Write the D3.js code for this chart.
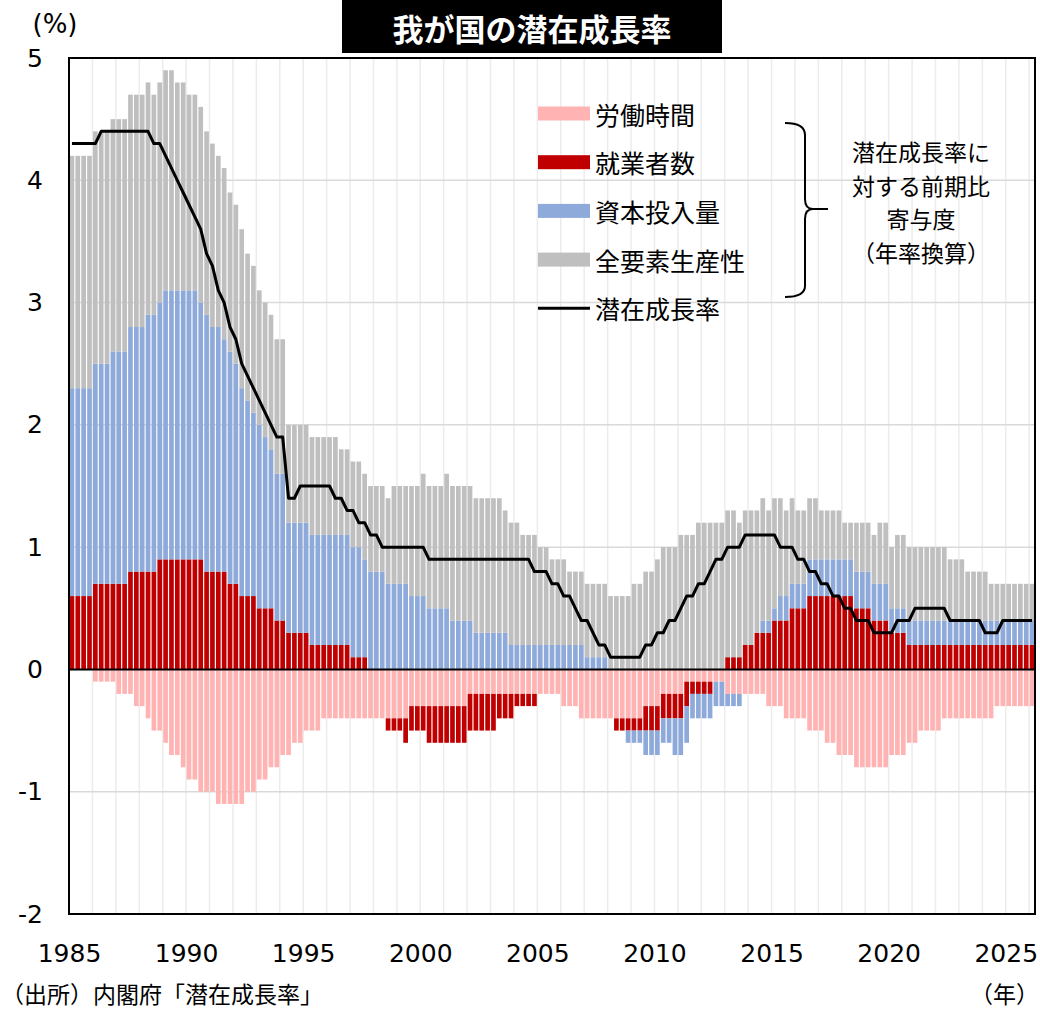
<!DOCTYPE html>
<html>
<head>
<meta charset="utf-8">
<script src="https://cdn.jsdelivr.net/npm/d3@7"></script>
<style>
body { margin: 0; background: #fff; }
</style>
</head>
<body>
<script>
//Données trimestrielles, de 1985T1 à 2026T1 (寄与度, %)
let anneeDebut = 1985;
let nomsSeries = ["労働時間", "就業者数", "資本投入量", "全要素生産性"];
let nomLigne = "潜在成長率";
let couleurs = ["#ffb3b3", "#c00000", "#8eaadb", "#bfbfbf"];

let heuresTravail = [
    0, 0, 0, 0,                 // 1985
    -0.1, -0.1, -0.1, -0.1,     // 1986
    -0.2, -0.2, -0.2, -0.3,     // 1987
    -0.3, -0.4, -0.5, -0.5,     // 1988
    -0.6, -0.7, -0.7, -0.8,     // 1989
    -0.9, -0.9, -1.0, -1.0,     // 1990
    -1.0, -1.1, -1.1, -1.1,     // 1991
    -1.1, -1.1, -1.0, -1.0,     // 1992
    -0.9, -0.9, -0.8, -0.8,     // 1993
    -0.7, -0.7, -0.6, -0.6,     // 1994
    -0.5, -0.5, -0.5, -0.4,     // 1995
    -0.4, -0.4, -0.4, -0.4,     // 1996
    -0.4, -0.4, -0.4, -0.4,     // 1997
    -0.4, -0.4, -0.4, -0.4,     // 1998
    -0.4, -0.4, -0.3, -0.3,     // 1999
    -0.3, -0.3, -0.3, -0.3,     // 2000
    -0.3, -0.3, -0.3, -0.3,     // 2001
    -0.2, -0.2, -0.2, -0.2,     // 2002
    -0.2, -0.2, -0.2, -0.2,     // 2003
    -0.2, -0.2, -0.2, -0.2,     // 2004
    -0.2, -0.2, -0.2, -0.2,     // 2005
    -0.3, -0.3, -0.3, -0.4,     // 2006
    -0.4, -0.4, -0.4, -0.4,     // 2007
    -0.4, -0.4, -0.4, -0.4,     // 2008
    -0.4, -0.4, -0.3, -0.3,     // 2009
    -0.3, -0.2, -0.2, -0.2,     // 2010
    -0.2, -0.1, -0.1, -0.1,     // 2011
    -0.1, -0.1, -0.1, -0.1,     // 2012
    -0.2, -0.2, -0.2, -0.2,     // 2013
    -0.2, -0.2, -0.2, -0.3,     // 2014
    -0.3, -0.3, -0.4, -0.4,     // 2015
    -0.4, -0.4, -0.5, -0.5,     // 2016
    -0.5, -0.6, -0.6, -0.7,     // 2017
    -0.7, -0.7, -0.8, -0.8,     // 2018
    -0.8, -0.8, -0.8, -0.8,     // 2019
    -0.7, -0.7, -0.7, -0.6,     // 2020
    -0.6, -0.5, -0.5, -0.5,     // 2021
    -0.5, -0.4, -0.4, -0.4,     // 2022
    -0.4, -0.4, -0.4, -0.4,     // 2023
    -0.4, -0.4, -0.3, -0.3,     // 2024
    -0.3, -0.3, -0.3, -0.3,     // 2025
    -0.3                        // 2026
];

let emploi = [
    0.6, 0.6, 0.6, 0.6,         // 1985
    0.7, 0.7, 0.7, 0.7,         // 1986
    0.7, 0.7, 0.8, 0.8,         // 1987
    0.8, 0.8, 0.8, 0.9,         // 1988
    0.9, 0.9, 0.9, 0.9,         // 1989
    0.9, 0.9, 0.9, 0.8,         // 1990
    0.8, 0.8, 0.8, 0.7,         // 1991
    0.7, 0.6, 0.6, 0.6,         // 1992
    0.5, 0.5, 0.5, 0.4,         // 1993
    0.4, 0.3, 0.3, 0.3,         // 1994
    0.3, 0.2, 0.2, 0.2,         // 1995
    0.2, 0.2, 0.2, 0.2,         // 1996
    0.1, 0.1, 0.1, 0,           // 1997
    0, 0, -0.1, -0.1,           // 1998
    -0.1, -0.2, -0.2, -0.2,     // 1999
    -0.2, -0.3, -0.3, -0.3,     // 2000
    -0.3, -0.3, -0.3, -0.3,     // 2001
    -0.3, -0.3, -0.3, -0.3,     // 2002
    -0.3, -0.2, -0.2, -0.2,     // 2003
    -0.1, -0.1, -0.1, -0.1,     // 2004
    0, 0, 0, 0,                 // 2005
    0, 0, 0, 0,                 // 2006
    0, 0, 0, 0,                 // 2007
    0, -0.1, -0.1, -0.1,        // 2008
    -0.1, -0.1, -0.2, -0.2,     // 2009
    -0.2, -0.2, -0.2, -0.2,     // 2010
    -0.2, -0.2, -0.1, -0.1,     // 2011
    -0.1, -0.1, 0, 0,           // 2012
    0.1, 0.1, 0.1, 0.2,         // 2013
    0.2, 0.3, 0.3, 0.3,         // 2014
    0.4, 0.4, 0.4, 0.5,         // 2015
    0.5, 0.5, 0.6, 0.6,         // 2016
    0.6, 0.6, 0.6, 0.6,         // 2017
    0.6, 0.6, 0.5, 0.5,         // 2018
    0.5, 0.4, 0.4, 0.4,         // 2019
    0.3, 0.3, 0.3, 0.2,         // 2020
    0.2, 0.2, 0.2, 0.2,         // 2021
    0.2, 0.2, 0.2, 0.2,         // 2022
    0.2, 0.2, 0.2, 0.2,         // 2023
    0.2, 0.2, 0.2, 0.2,         // 2024
    0.2, 0.2, 0.2, 0.2,         // 2025
    0.2                         // 2026
];

let capital = [
    1.7, 1.7, 1.7, 1.7,         // 1985
    1.8, 1.8, 1.8, 1.9,         // 1986
    1.9, 1.9, 2.0, 2.0,         // 1987
    2.0, 2.1, 2.1, 2.1,         // 1988
    2.2, 2.2, 2.2, 2.2,         // 1989
    2.2, 2.2, 2.1, 2.1,         // 1990
    2.0, 2.0, 1.9, 1.9,         // 1991
    1.8, 1.7, 1.6, 1.5,         // 1992
    1.5, 1.4, 1.3, 1.2,         // 1993
    1.2, 0.9, 0.9, 0.9,         // 1994
    0.9, 0.9, 0.9, 0.9,         // 1995
    0.9, 0.9, 0.9, 0.9,         // 1996
    0.9, 0.9, 0.8, 0.8,         // 1997
    0.8, 0.8, 0.7, 0.7,         // 1998
    0.7, 0.7, 0.6, 0.6,         // 1999
    0.6, 0.5, 0.5, 0.5,         // 2000
    0.5, 0.4, 0.4, 0.4,         // 2001
    0.4, 0.3, 0.3, 0.3,         // 2002
    0.3, 0.3, 0.3, 0.2,         // 2003
    0.2, 0.2, 0.2, 0.2,         // 2004
    0.2, 0.2, 0.2, 0.2,         // 2005
    0.2, 0.2, 0.2, 0.2,         // 2006
    0.1, 0.1, 0.1, 0.1,         // 2007
    0, 0, 0, -0.1,              // 2008
    -0.1, -0.1, -0.2, -0.2,     // 2009
    -0.2, -0.2, -0.2, -0.3,     // 2010
    -0.3, -0.3, -0.2, -0.2,     // 2011
    -0.2, -0.2, -0.2, -0.2,     // 2012
    -0.1, -0.1, -0.1, 0,        // 2013
    0, 0, 0.1, 0.1,             // 2014
    0.1, 0.2, 0.2, 0.2,         // 2015
    0.2, 0.2, 0.3, 0.3,         // 2016
    0.3, 0.3, 0.3, 0.3,         // 2017
    0.3, 0.3, 0.3, 0.3,         // 2018
    0.3, 0.3, 0.3, 0.3,         // 2019
    0.2, 0.2, 0.2, 0.2,         // 2020
    0.2, 0.2, 0.2, 0.2,         // 2021
    0.2, 0.2, 0.2, 0.2,         // 2022
    0.2, 0.2, 0.2, 0.2,         // 2023
    0.2, 0.2, 0.2, 0.2,         // 2024
    0.2, 0.2, 0.2, 0.2,         // 2025
    0.2                         // 2026
];

let pgf = [
    1.9, 1.9, 1.9, 1.9,         // 1985
    1.9, 1.9, 1.9, 1.9,         // 1986
    1.9, 1.9, 1.9, 1.9,         // 1987
    1.9, 1.9, 1.8, 1.8,         // 1988
    1.8, 1.8, 1.7, 1.7,         // 1989
    1.6, 1.6, 1.6, 1.5,         // 1990
    1.5, 1.4, 1.4, 1.3,         // 1991
    1.3, 1.3, 1.2, 1.2,         // 1992
    1.1, 1.1, 1.1, 1.1,         // 1993
    1.1, 0.8, 0.8, 0.8,         // 1994
    0.8, 0.8, 0.8, 0.8,         // 1995
    0.8, 0.8, 0.7, 0.7,         // 1996
    0.7, 0.7, 0.7, 0.7,         // 1997
    0.7, 0.7, 0.7, 0.8,         // 1998
    0.8, 0.8, 0.9, 0.9,         // 1999
    1.0, 1.0, 1.0, 1.0,         // 2000
    1.1, 1.1, 1.1, 1.1,         // 2001
    1.1, 1.1, 1.1, 1.1,         // 2002
    1.1, 1.1, 1.0, 1.0,         // 2003
    1.0, 0.9, 0.9, 0.9,         // 2004
    0.8, 0.8, 0.7, 0.7,         // 2005
    0.7, 0.6, 0.6, 0.6,         // 2006
    0.6, 0.6, 0.6, 0.6,         // 2007
    0.6, 0.6, 0.6, 0.6,         // 2008
    0.7, 0.7, 0.8, 0.8,         // 2009
    0.9, 1.0, 1.0, 1.0,         // 2010
    1.1, 1.1, 1.1, 1.2,         // 2011
    1.2, 1.2, 1.2, 1.2,         // 2012
    1.2, 1.2, 1.1, 1.1,         // 2013
    1.1, 1.0, 1.0, 0.9,         // 2014
    0.9, 0.8, 0.7, 0.7,         // 2015
    0.6, 0.6, 0.5, 0.5,         // 2016
    0.4, 0.4, 0.4, 0.4,         // 2017
    0.3, 0.3, 0.4, 0.4,         // 2018
    0.4, 0.4, 0.5, 0.5,         // 2019
    0.5, 0.6, 0.6, 0.6,         // 2020
    0.6, 0.6, 0.6, 0.6,         // 2021
    0.6, 0.6, 0.5, 0.5,         // 2022
    0.5, 0.4, 0.4, 0.4,         // 2023
    0.4, 0.3, 0.3, 0.3,         // 2024
    0.3, 0.3, 0.3, 0.3,         // 2025
    0.3                         // 2026
];

let croissancePotentielle = [
    4.3, 4.3, 4.3, 4.3,         // 1985
    4.3, 4.4, 4.4, 4.4,         // 1986
    4.4, 4.4, 4.4, 4.4,         // 1987
    4.4, 4.4, 4.3, 4.3,         // 1988
    4.2, 4.1, 4.0, 3.9,         // 1989
    3.8, 3.7, 3.6, 3.4,         // 1990
    3.3, 3.1, 3.0, 2.8,         // 1991
    2.7, 2.5, 2.4, 2.3,         // 1992
    2.2, 2.1, 2.0, 1.9,         // 1993
    1.9, 1.4, 1.4, 1.5,         // 1994
    1.5, 1.5, 1.5, 1.5,         // 1995
    1.5, 1.4, 1.4, 1.3,         // 1996
    1.3, 1.2, 1.2, 1.1,         // 1997
    1.1, 1.0, 1.0, 1.0,         // 1998
    1.0, 1.0, 1.0, 1.0,         // 1999
    1.0, 0.9, 0.9, 0.9,         // 2000
    0.9, 0.9, 0.9, 0.9,         // 2001
    0.9, 0.9, 0.9, 0.9,         // 2002
    0.9, 0.9, 0.9, 0.9,         // 2003
    0.9, 0.9, 0.9, 0.8,         // 2004
    0.8, 0.8, 0.7, 0.7,         // 2005
    0.6, 0.6, 0.5, 0.4,         // 2006
    0.4, 0.3, 0.2, 0.2,         // 2007
    0.1, 0.1, 0.1, 0.1,         // 2008
    0.1, 0.1, 0.2, 0.2,         // 2009
    0.3, 0.3, 0.4, 0.4,         // 2010
    0.5, 0.6, 0.6, 0.7,         // 2011
    0.7, 0.8, 0.9, 0.9,         // 2012
    1.0, 1.0, 1.0, 1.1,         // 2013
    1.1, 1.1, 1.1, 1.1,         // 2014
    1.1, 1.0, 1.0, 1.0,         // 2015
    0.9, 0.9, 0.8, 0.8,         // 2016
    0.7, 0.7, 0.6, 0.6,         // 2017
    0.5, 0.5, 0.4, 0.4,         // 2018
    0.4, 0.3, 0.3, 0.3,         // 2019
    0.3, 0.4, 0.4, 0.4,         // 2020
    0.5, 0.5, 0.5, 0.5,         // 2021
    0.5, 0.5, 0.4, 0.4,         // 2022
    0.4, 0.4, 0.4, 0.4,         // 2023
    0.3, 0.3, 0.3, 0.4,         // 2024
    0.4, 0.4, 0.4, 0.4,         // 2025
    0.4                         // 2026
];

let ticksY = [-2, -1, 0, 1, 2, 3, 4, 5];
let anneesLabels = [1985, 1990, 1995, 2000, 2005, 2010, 2015, 2020, 2025];
let texteAccolade = ["潜在成長率に", "対する前期比", "寄与度", "（年率換算）"];

let width = 1040;
let height = 1010;
let marges = {
    top: 58,
    right: 5,
    bottom: 96,
    left: 69
};
let largeur = width - marges.left - marges.right;
let hauteur = height - marges.top - marges.bottom;
let policeChiffres = "'DejaVu Sans', 'Noto Sans CJK JP', sans-serif";
let policeJp = "'Noto Sans CJK JP', sans-serif";

//Tableau des trimestres
let data = heuresTravail.map((d, i) => {
    return {
        i: i,
        h: d,
        e: emploi[i],
        c: capital[i],
        t: pgf[i],
        p: croissancePotentielle[i]
    };
});
let nbTrim = data.length;

//Echelles
let x = d3.scaleBand()
    .domain(data.map(d => d.i))
    .range([0, largeur])
    .paddingInner(0.2)
    .paddingOuter(0.1);

let xTemps = d3.scaleLinear()
    .domain([anneeDebut, anneeDebut + nbTrim / 4])
    .range([0, largeur]);

let y = d3.scaleLinear()
    .domain([-2, 5])
    .range([hauteur, 0]);

let svg = d3.select("body").append("svg")
    .attr("width", width)
    .attr("height", height);

let canevas = svg.append("g")
    .attr("transform", "translate(" + marges.left + "," + marges.top + ")");

//Grille verticale (une ligne par année)
canevas.append("g")
    .selectAll("line")
    .data(d3.range(anneeDebut + 1, anneeDebut + Math.floor(nbTrim / 4) + 1))
    .enter()
    .append("line")
    .attr("x1", d => xTemps(d))
    .attr("x2", d => xTemps(d))
    .attr("y1", 0)
    .attr("y2", hauteur)
    .attr("stroke", "#ececec")
    .attr("stroke-width", 1.5);

//Grille horizontale
canevas.append("g")
    .selectAll("line")
    .data(ticksY.slice(1, -1))
    .enter()
    .append("line")
    .attr("x1", 0)
    .attr("x2", largeur)
    .attr("y1", d => y(d))
    .attr("y2", d => y(d))
    .attr("stroke", "#d9d9d9")
    .attr("stroke-width", 1.5);

//Barres empilées (positifs vers le haut, négatifs vers le bas)
let pile = d3.stack()
    .keys(["h", "e", "c", "t"])
    .offset(d3.stackOffsetDiverging)(data);

canevas.append("g")
    .selectAll("g")
    .data(pile)
    .enter()
    .append("g")
    .attr("fill", (d, k) => couleurs[k])
    .selectAll("rect")
    .data(d => d)
    .enter()
    .append("rect")
    .attr("x", d => x(d.data.i))
    .attr("width", x.bandwidth())
    .attr("y", d => y(Math.max(d[0], d[1])))
    .attr("height", d => Math.abs(y(d[0]) - y(d[1])));

//Ligne du zéro
canevas.append("line")
    .attr("x1", 0)
    .attr("x2", largeur)
    .attr("y1", y(0))
    .attr("y2", y(0))
    .attr("stroke", "#000")
    .attr("stroke-width", 2);

//Taux de croissance potentielle
canevas.append("path")
    .datum(data)
    .attr("fill", "none")
    .attr("stroke", "#000")
    .attr("stroke-width", 3)
    .attr("stroke-linejoin", "round")
    .attr("d", d3.line()
        .x(d => x(d.i) + x.bandwidth() / 2)
        .y(d => y(d.p)));

//Cadre
canevas.append("rect")
    .attr("width", largeur)
    .attr("height", hauteur)
    .attr("fill", "none")
    .attr("stroke", "#000")
    .attr("stroke-width", 2);

//Axes
let axeY = canevas.append("g")
    .call(d3.axisLeft(y)
        .tickValues(ticksY)
        .tickSize(0)
        .tickPadding(26)
        .tickFormat(d => String(d)));
axeY.select(".domain").remove();
axeY.selectAll("text")
    .style("font-family", policeChiffres)
    .style("font-size", "25px")
    .attr("fill", "#000");

let axeX = canevas.append("g")
    .attr("transform", "translate(0," + hauteur + ")")
    .call(d3.axisBottom(xTemps)
        .tickValues(anneesLabels)
        .tickSize(0)
        .tickPadding(30)
        .tickFormat(d3.format("d")));
axeX.select(".domain").remove();
axeX.selectAll("text")
    .style("font-family", policeChiffres)
    .style("font-size", "25px")
    .attr("fill", "#000");

//Textes autour
svg.append("text")
    .attr("x", 55)
    .attr("y", 33)
    .attr("text-anchor", "middle")
    .style("font-family", policeChiffres)
    .style("font-size", "26px")
    .text("(%)");

svg.append("rect")
    .attr("x", 342)
    .attr("y", 0)
    .attr("width", 380)
    .attr("height", 53)
    .attr("fill", "#000");

svg.append("text")
    .attr("x", 532)
    .attr("y", 27)
    .attr("text-anchor", "middle")
    .attr("dominant-baseline", "central")
    .attr("fill", "#fff")
    .style("font-family", policeJp)
    .style("font-weight", "bold")
    .style("font-size", "31px")
    .text("我が国の潜在成長率");

svg.append("text")
    .attr("x", 1)
    .attr("y", 993)
    .attr("dominant-baseline", "central")
    .style("font-family", policeJp)
    .style("font-size", "23px")
    .text("（出所）内閣府「潜在成長率」");

svg.append("text")
    .attr("x", 1039)
    .attr("y", 993)
    .attr("text-anchor", "end")
    .attr("dominant-baseline", "central")
    .style("font-family", policeJp)
    .style("font-size", "23px")
    .text("（年）");

//Légende
let legende = svg.append("g")
    .attr("transform", "translate(538,113.5)");

let entrees = nomsSeries.concat([nomLigne]);
let item = legende.selectAll("g")
    .data(entrees)
    .enter()
    .append("g")
    .attr("transform", (d, k) => "translate(0," + (k * 48.7) + ")");

item.filter((d, k) => k < 4)
    .append("rect")
    .attr("y", -7)
    .attr("width", 52)
    .attr("height", 14)
    .attr("fill", (d, k) => couleurs[k]);

item.filter((d, k) => k === 4)
    .append("line")
    .attr("x1", 0)
    .attr("x2", 52)
    .attr("stroke", "#000")
    .attr("stroke-width", 3);

item.append("text")
    .attr("x", 57)
    .attr("dominant-baseline", "central")
    .style("font-family", policeJp)
    .style("font-size", "25px")
    .text(d => d);

//Accolade et son texte
svg.append("path")
    .attr("d", "M785,123 Q805,123 805,135 L805,199 Q805,209 813,209 L828,209 M813,209 Q805,209 805,219 L805,286 Q805,297 785,297")
    .attr("fill", "none")
    .attr("stroke", "#000")
    .attr("stroke-width", 2);

svg.append("g")
    .selectAll("text")
    .data(texteAccolade)
    .enter()
    .append("text")
    .attr("x", 921)
    .attr("y", (d, k) => 151 + k * 33.5)
    .attr("text-anchor", "middle")
    .attr("dominant-baseline", "central")
    .style("font-family", policeJp)
    .style("font-size", "23px")
    .text(d => d);
</script>
</body>
</html>
